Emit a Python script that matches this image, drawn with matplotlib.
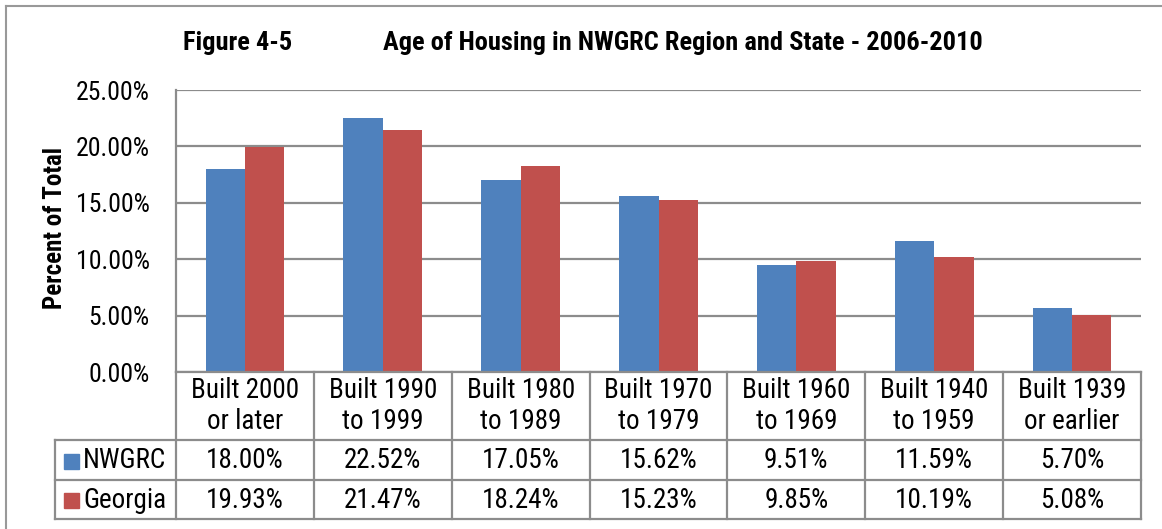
import matplotlib.pyplot as plt
import matplotlib.transforms as mtransforms
from matplotlib.lines import Line2D
from matplotlib.patches import Rectangle

# Data
categories = ["Built 2000\nor later", "Built 1990\nto 1999", "Built 1980\nto 1989",
              "Built 1970\nto 1979", "Built 1960\nto 1969", "Built 1940\nto 1959",
              "Built 1939\nor earlier"]
nwgrc = [18.00, 22.52, 17.05, 15.62, 9.51, 11.59, 5.70]
georgia = [19.93, 21.47, 18.24, 15.23, 9.85, 10.19, 5.08]
series_names = ["NWGRC", "Georgia"]
yticks = [0, 5, 10, 15, 20, 25]

blue = "#4f81bd"
red = "#c0504d"
grid_col = "#8c8c8c"

plt.rcParams["font.family"] = ["Roboto Condensed", "DejaVu Sans"]
fs = 19.5

W, H = 1162, 529
fig = plt.figure(figsize=(W / 100, H / 100), dpi=100)


def fy(py):
    # pixel row (from top) -> figure fraction
    return 1 - py / H


def fx(px):
    return px / W


ax = fig.add_axes([fx(176), fy(372), fx(1141) - fx(176), fy(90) - fy(372)])

n = len(categories)
xs = list(range(n))
bw = 0.285
ax.bar([x - bw / 2 for x in xs], nwgrc, width=bw, color=blue, zorder=3)
ax.bar([x + bw / 2 for x in xs], georgia, width=bw, color=red, zorder=3)

ax.set_xlim(-0.5, n - 0.5)
ax.set_ylim(0, 25)
ax.set_yticks(yticks)
ax.set_yticklabels([f"{v:.2f}%" for v in yticks], fontsize=18.5)
ax.tick_params(axis="y", length=0, pad=19)
ax.set_xticks([])
ax.grid(axis="y", color=grid_col, linewidth=1.6, zorder=0)
for s in ["top", "right", "bottom"]:
    ax.spines[s].set_visible(False)
ax.spines["left"].set_color(grid_col)
ax.spines["left"].set_linewidth(1.6)

# axis label and titles
fig.text(fx(55), fy(228), "Percent of Total", rotation=90, fontsize=18,
         fontweight="bold", ha="center", va="center")
fig.text(fx(238), fy(43), "Figure 4-5", fontsize=19, fontweight="bold",
         ha="center", va="center")
fig.text(fx(683), fy(43), "Age of Housing in NWGRC Region and State - 2006-2010",
         fontsize=19, fontweight="bold", ha="center", va="center")

# data table below the axis: x in data coords, y in figure coords
trans = mtransforms.blended_transform_factory(ax.transData, fig.transFigure)
lw = 1.6
row_edges = [372, 440, 480, 519]
legend_left = fx(55)

# horizontal lines
for i, ry in enumerate(row_edges):
    if i == 0:
        fig.add_artist(Line2D([-0.5, n - 0.5], [fy(ry), fy(ry)], transform=trans,
                              color=grid_col, lw=lw))
    else:
        fig.add_artist(Line2D([legend_left, fx(1141)], [fy(ry), fy(ry)],
                              transform=fig.transFigure, color=grid_col, lw=lw))
# vertical lines
for k in range(n + 1):
    xb = k - 0.5
    fig.add_artist(Line2D([xb, xb], [fy(372), fy(519)], transform=trans,
                          color=grid_col, lw=lw))
fig.add_artist(Line2D([legend_left, legend_left], [fy(440), fy(519)],
                      transform=fig.transFigure, color=grid_col, lw=lw))

# header and values
for i, cat in enumerate(categories):
    fig.text(i, fy(406), cat, transform=trans, ha="center", va="center",
             fontsize=fs, linespacing=1.15)
    fig.text(i, fy(461), f"{nwgrc[i]:.2f}%", transform=trans, ha="center",
             va="center", fontsize=fs)
    fig.text(i, fy(500), f"{georgia[i]:.2f}%", transform=trans, ha="center",
             va="center", fontsize=fs)

# legend keys inside the table
for name, col, ry in zip(series_names, [blue, red], [461, 500]):
    fig.add_artist(Rectangle((fx(64), fy(ry + 7.5)), fx(15), fy(0) - fy(15),
                             transform=fig.transFigure, color=col))
    fig.text(fx(83), fy(ry), name, ha="left", va="center", fontsize=fs)

# outer border of the chart area
fig.add_artist(Line2D([fx(6), fx(6)], [fy(6), 0], transform=fig.transFigure,
                      color="#999999", lw=1.5))
fig.add_artist(Line2D([fx(6), 1], [fy(6), fy(6)], transform=fig.transFigure,
                      color="#999999", lw=1.5))

fig.savefig("out.png", dpi=100)
